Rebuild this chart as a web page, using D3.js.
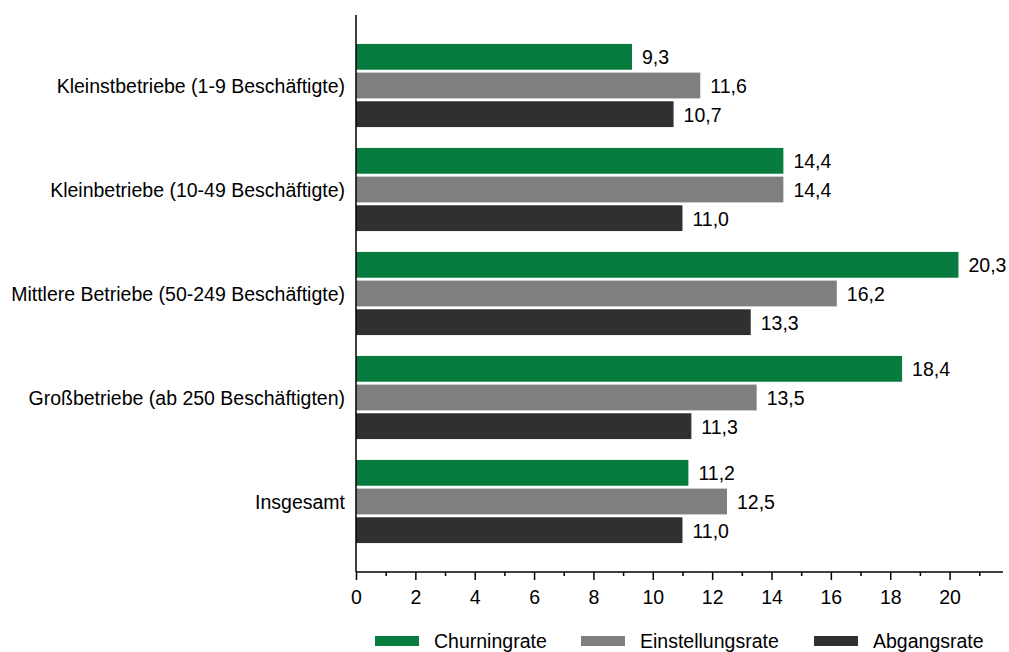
<!DOCTYPE html>
<html>
<head>
<meta charset="utf-8">
<script src="https://cdn.jsdelivr.net/npm/d3@7"></script>
<style>
  html, body { margin: 0; padding: 0; background: #fff; }
  svg { display: block; font-family: "Liberation Sans", Arial, sans-serif; }
</style>
</head>
<body>
<script>
const categories = [
  "Kleinstbetriebe (1-9 Beschäftigte)",
  "Kleinbetriebe (10-49 Beschäftigte)",
  "Mittlere Betriebe (50-249 Beschäftigte)",
  "Großbetriebe (ab 250 Beschäftigten)",
  "Insgesamt"
];
const seriesNames = ["Churningrate", "Einstellungsrate", "Abgangsrate"];
const churningrate = [9.3, 14.4, 20.3, 18.4, 11.2];
const einstellungsrate = [11.6, 14.4, 16.2, 13.5, 12.5];
const abgangsrate = [10.7, 11.0, 13.3, 11.3, 11.0];
const xTicks = [0, 2, 4, 6, 8, 10, 12, 14, 16, 18, 20];
const colors = ["#087c3f", "#7f7f7f", "#303030"];

const seriesValues = [churningrate, einstellungsrate, abgangsrate];
const W = 1009, H = 652;
const FS = 19.5;
const svg = d3.select("body").append("svg").attr("width", W).attr("height", H);

const x = d3.scaleLinear().domain([0, 21.8]).range([356, 1003]);
const y = d3.scaleBand().domain(categories).range([33.5, 553.5])
  .paddingInner(0.173).paddingOuter(0.0865);
const yInner = d3.scaleBand().domain(seriesNames).range([0, y.bandwidth()])
  .paddingInner(0.1).paddingOuter(0.05);

const fmt = v => v.toFixed(1).replace(".", ",");

// bars
categories.forEach((c, ci) => {
  const g = svg.append("g").attr("transform", `translate(0,${y(c)})`);
  seriesNames.forEach((s, si) => {
    const v = seriesValues[si][ci];
    g.append("rect")
      .attr("x", x(0))
      .attr("y", yInner(s))
      .attr("width", x(v) - x(0))
      .attr("height", yInner.bandwidth())
      .attr("fill", colors[si]);
    g.append("text")
      .attr("x", x(v) + 10)
      .attr("y", yInner(s) + yInner.bandwidth() / 2 + 7.5)
      .attr("font-size", FS)
      .attr("fill", "#000")
      .text(fmt(v));
  });
});

// category labels
categories.forEach(c => {
  svg.append("text")
    .attr("x", 345)
    .attr("y", y(c) + y.bandwidth() / 2 + 7.5)
    .attr("text-anchor", "end")
    .attr("font-size", FS)
    .attr("fill", "#000")
    .text(c);
});

// vertical axis line
svg.append("line")
  .attr("x1", x(0)).attr("x2", x(0))
  .attr("y1", 15).attr("y2", 572)
  .attr("stroke", "#000").attr("stroke-width", 1.5);

// x axis
const axisY = 572;
const xAxis = d3.axisBottom(x)
  .tickValues(d3.range(0, 22, 1))
  .tickSize(8)
  .tickFormat(d => xTicks.includes(d) ? String(d) : "");
const ax = svg.append("g").attr("transform", `translate(0,${axisY})`).call(xAxis);
ax.select(".domain").attr("stroke", "#000").attr("stroke-width", 1.5)
  .attr("d", `M${x(0)},0H${x.range()[1]}`);
ax.selectAll(".tick line")
  .attr("stroke", "#000").attr("stroke-width", 1.5)
  .attr("y2", d => xTicks.includes(d) ? 8 : 4);
ax.selectAll(".tick text")
  .attr("font-size", FS)
  .attr("font-family", "Liberation Sans, Arial, sans-serif")
  .attr("fill", "#000")
  .attr("dy", null)
  .attr("y", 32);

// legend
const legendX = [375, 581, 814];
seriesNames.forEach((s, i) => {
  svg.append("rect")
    .attr("x", legendX[i]).attr("y", 636)
    .attr("width", 44).attr("height", 10)
    .attr("fill", colors[i]);
  svg.append("text")
    .attr("x", legendX[i] + 59).attr("y", 647.5)
    .attr("font-size", FS).attr("fill", "#000")
    .text(s);
});
</script>
</body>
</html>
